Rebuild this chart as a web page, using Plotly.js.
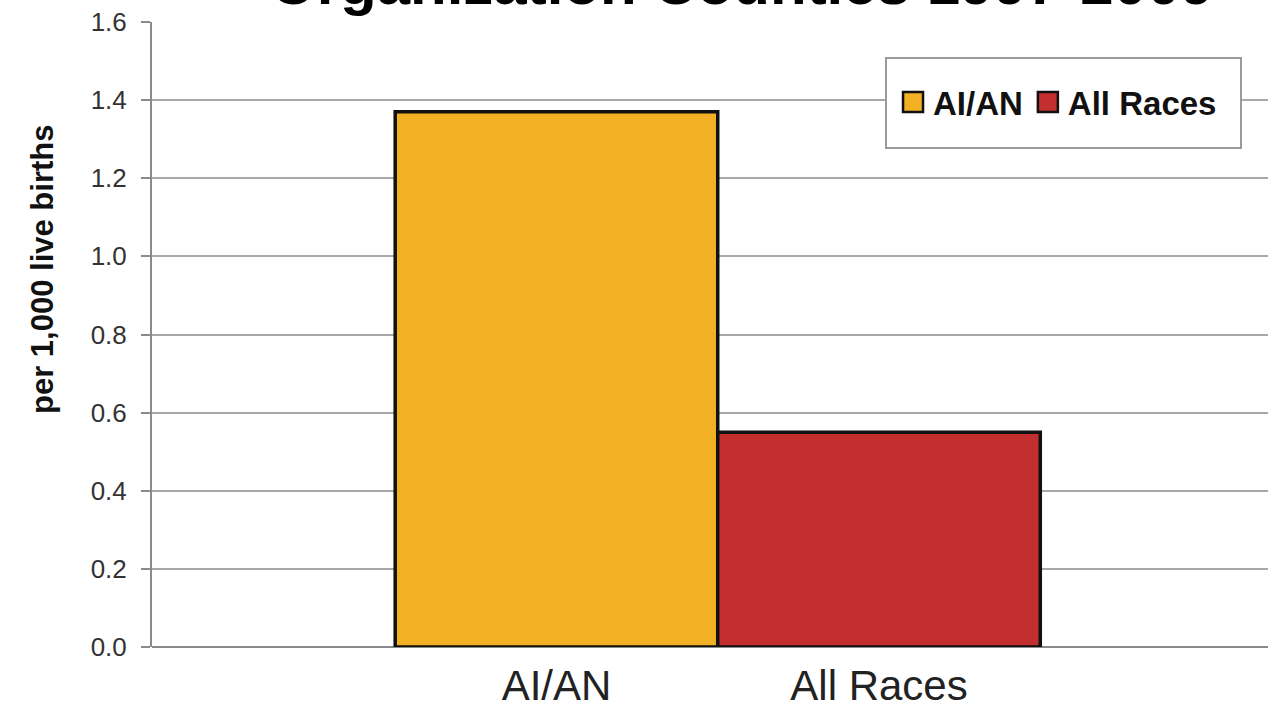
<!DOCTYPE html>
<html>
<head>
<meta charset="utf-8">
<script src="https://cdn.plot.ly/plotly-3.0.1.min.js"></script>
<style>html,body{margin:0;padding:0;background:#fff;}#chart{width:1268px;height:707px;}</style>
</head>
<body>
<div id="chart"></div>
<script>
var categories = ["AI/AN", "All Races"];
var seriesNames = ["AI/AN", "All Races"];
var values = [1.37, 0.55];
var colors = ["#F2B124", "#C32F2F"];
var yTicks = [0, 0.2, 0.4, 0.6, 0.8, 1.0, 1.2, 1.4, 1.6];
var yTickLabels = ["0.0", "0.2", "0.4", "0.6", "0.8", "1.0", "1.2", "1.4", "1.6"];
var titleText = "Organization Counties 1997-2009";
var yTitleText = "per 1,000 live births";

var traces = seriesNames.map(function (name, i) {
  return {
    type: "bar",
    name: name,
    x: [categories[i]],
    y: [values[i]],
    width: 1,
    marker: { color: colors[i], line: { color: "#111", width: 3.5 } },
    hoverinfo: "x+y"
  };
});

var layout = {
  width: 1268,
  height: 707,
  margin: { l: 152, r: 0, t: 22, b: 60, pad: 0 },
  paper_bgcolor: "#fff",
  plot_bgcolor: "#fff",
  barmode: "overlay",
  showlegend: true,
  font: { family: "Liberation Sans, Arial, sans-serif", color: "#222" },
  xaxis: {
    type: "category",
    categoryorder: "array",
    categoryarray: categories,
    range: [-1.254, 2.206],
    showgrid: false,
    zeroline: false,
    showline: false,
    ticks: "",
    ticklabelstandoff: 10,
    tickfont: { size: 42, color: "#222", family: "Liberation Sans, Arial, sans-serif" },
    fixedrange: true
  },
  yaxis: {
    range: [0, 1.6],
    tickvals: yTicks,
    ticktext: yTickLabels,
    showgrid: true,
    gridcolor: "#a8a8a8",
    gridwidth: 2,
    zeroline: true,
    zerolinecolor: "#8a8a8a",
    zerolinewidth: 2.5,
    showline: true,
    linecolor: "#8a8a8a",
    linewidth: 2,
    ticks: "outside",
    ticklen: 9,
    tickwidth: 2,
    tickcolor: "#8a8a8a",
    ticklabelstandoff: 9,
    tickfont: { size: 26, color: "#333", family: "Liberation Sans, Arial, sans-serif" },
    fixedrange: true
  },
  legend: {
    orientation: "h",
    x: 0.664,
    xanchor: "left",
    y: 0.872,
    yanchor: "middle",
    bgcolor: "rgba(0,0,0,0)",
    borderwidth: 0,
    font: { size: 33, color: "#111", family: "Liberation Sans, Arial, sans-serif", weight: "bold" },
    itemwidth: 30,
    tracegroupgap: 0
  },
  shapes: [
    {
      type: "rect", xref: "paper", yref: "paper",
      x0: (886 - 152) / 1116, x1: (1241 - 152) / 1116,
      y0: (647 - 148) / 625, y1: (647 - 58) / 625,
      fillcolor: "#fff", line: { color: "#9a9a9a", width: 2 }, layer: "above"
    }
  ],
  annotations: [
    {
      text: titleText,
      xref: "paper", yref: "paper",
      x: (742 - 152) / 1116, y: (647 - 19) / 625,
      xanchor: "center", yanchor: "bottom",
      showarrow: false,
      font: { size: 60, color: "#000", family: "Liberation Sans, Arial, sans-serif", weight: "bold" }
    },
    {
      text: yTitleText,
      xref: "paper", yref: "paper",
      x: (42 - 152) / 1116, y: (647 - 270) / 625,
      xanchor: "center", yanchor: "middle",
      textangle: -90,
      showarrow: false,
      font: { size: 31, color: "#111", family: "Liberation Sans, Arial, sans-serif", weight: "bold" }
    }
  ]
};

Plotly.newPlot("chart", traces, layout, { displayModeBar: false, staticPlot: true }).then(function (gd) {
  var pts = gd.querySelectorAll(".legend .legendpoints path");
  pts.forEach(function (p) {
    p.setAttribute("d", "M10,10H-10V-10H10Z");
    p.style.strokeWidth = "2.5px";
  });
});
</script>
</body>
</html>
